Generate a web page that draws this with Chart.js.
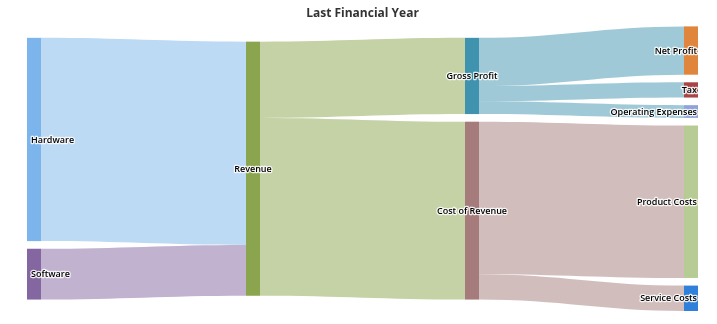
<!DOCTYPE html>
<html>
<head>
<meta charset="utf-8">
<title>Last Financial Year</title>
<script src="https://cdn.jsdelivr.net/npm/chart.js@4.4.1/dist/chart.umd.min.js"></script>
<style>
  html, body { margin: 0; padding: 0; background: #fff; }
</style>
</head>
<body>
<canvas id="sankeyChart" width="717" height="324"></canvas>
<script>
// Nodes and flows of the income breakdown
const nodeNames = ['Hardware', 'Software', 'Revenue', 'Gross Profit', 'Cost of Revenue',
  'Net Profit', 'Tax', 'Operating Expenses', 'Product Costs', 'Service Costs'];
const nodeColors = ['#7cb5ec', '#8466a0', '#8ba54e', '#4093ae', '#a57b7c',
  '#e0853c', '#a94446', '#8fa3da', '#b6cc94', '#2f80da'];

const linkFrom = ['Hardware', 'Software', 'Revenue', 'Revenue', 'Gross Profit',
  'Gross Profit', 'Gross Profit', 'Cost of Revenue', 'Cost of Revenue'];
const linkTo = ['Revenue', 'Revenue', 'Gross Profit', 'Cost of Revenue', 'Net Profit',
  'Tax', 'Operating Expenses', 'Product Costs', 'Service Costs'];
const linkValues = [80, 20, 30, 70, 19, 6, 5, 60, 10];

const nodePadding = 3;   // gap between nodes, in value units
const nodeWidth = 14;    // px

// work out columns and stacked positions (in value units)
function buildLayout() {
  const nodes = nodeNames.map((name, i) => ({ name, color: nodeColors[i], col: 0, inSum: 0, outSum: 0 }));
  const byName = {};
  nodes.forEach(n => byName[n.name] = n);
  linkFrom.forEach((f, i) => {
    byName[f].outSum += linkValues[i];
    byName[linkTo[i]].inSum += linkValues[i];
  });
  // push targets one column past their sources
  let changed = true;
  while (changed) {
    changed = false;
    linkFrom.forEach((f, i) => {
      const t = byName[linkTo[i]];
      if (t.col < byName[f].col + 1) { t.col = byName[f].col + 1; changed = true; }
    });
  }
  const cols = [];
  nodes.forEach(n => {
    n.value = Math.max(n.inSum, n.outSum);
    (cols[n.col] = cols[n.col] || []).push(n);
  });
  const colTotals = cols.map(c => c.reduce((s, n) => s + n.value, 0) + nodePadding * (c.length - 1));
  const yMax = Math.max(...colTotals);
  cols.forEach((c, ci) => {
    let top = yMax / 2 + colTotals[ci] / 2;
    c.forEach(n => {
      n.top = top;
      n.bottom = top - n.value;
      n.outOffset = top;
      n.inOffset = top;
      top = n.bottom - nodePadding;
    });
  });
  const links = linkFrom.map((f, i) => {
    const s = byName[f], t = byName[linkTo[i]], v = linkValues[i];
    const link = { source: s, target: t, value: v,
      sTop: s.outOffset, tTop: t.inOffset };
    s.outOffset -= v;
    t.inOffset -= v;
    return link;
  });
  return { nodes, links, yMax, lastCol: cols.length - 1 };
}

const layout = buildLayout();

function hexToRgba(hex, a) {
  const n = parseInt(hex.slice(1), 16);
  return 'rgba(' + (n >> 16) + ',' + ((n >> 8) & 255) + ',' + (n & 255) + ',' + a + ')';
}

const sankeyPlugin = {
  id: 'sankeyFlows',
  afterDatasetsDraw(chart) {
    const { ctx, scales: { x, y } } = chart;
    const half = nodeWidth / 2;
    ctx.save();

    // flows
    layout.links.forEach(l => {
      const sx = x.getPixelForValue(l.source.col) + half;
      const tx = x.getPixelForValue(l.target.col) - half;
      const curvy = (tx - sx) * 0.4;
      const y0 = y.getPixelForValue(l.sTop);
      const y1 = y.getPixelForValue(l.tTop);
      const y0b = y.getPixelForValue(l.sTop - l.value);
      const y1b = y.getPixelForValue(l.tTop - l.value);
      ctx.beginPath();
      ctx.moveTo(sx, y0);
      ctx.bezierCurveTo(sx + curvy, y0, tx - curvy, y1, tx, y1);
      ctx.lineTo(tx, y1b);
      ctx.bezierCurveTo(tx - curvy, y1b, sx + curvy, y0b, sx, y0b);
      ctx.closePath();
      ctx.fillStyle = hexToRgba(l.source.color, 0.5);
      ctx.fill();
    });

    // nodes
    layout.nodes.forEach(n => {
      const cx = x.getPixelForValue(n.col);
      const top = y.getPixelForValue(n.top);
      const bottom = y.getPixelForValue(n.bottom);
      ctx.fillStyle = n.color;
      ctx.fillRect(cx - half, top, nodeWidth, bottom - top);
    });

    // labels with a light halo
    ctx.font = '600 9px "Open Sans"';
    ctx.textBaseline = 'middle';
    ctx.lineJoin = 'round';
    layout.nodes.forEach(n => {
      const cx = x.getPixelForValue(n.col);
      const cy = (y.getPixelForValue(n.top) + y.getPixelForValue(n.bottom)) / 2 + 0.5;
      let lx = cx;
      if (n.col === 0) { ctx.textAlign = 'left'; lx = cx - 3; }
      else if (n.col === layout.lastCol) { ctx.textAlign = 'right'; lx = cx + half - 1; }
      else { ctx.textAlign = 'center'; }
      ctx.lineWidth = 2.5;
      ctx.strokeStyle = 'rgba(255,255,255,0.85)';
      ctx.strokeText(n.name, lx, cy);
      ctx.fillStyle = '#000';
      ctx.fillText(n.name, lx, cy);
    });
    ctx.restore();
  }
};

new Chart(document.getElementById('sankeyChart'), {
  type: 'scatter',
  data: { datasets: [{ data: [] }] },
  options: {
    responsive: false,
    animation: false,
    layout: { padding: { top: 3, bottom: 13, left: 34, right: 26 } },
    plugins: {
      legend: { display: false },
      tooltip: { enabled: false },
      title: {
        display: true,
        text: 'Last Financial Year',
        color: '#333',
        font: { family: 'Open Sans', size: 12, weight: 'bold' },
        padding: { top: 3, bottom: 6 }
      }
    },
    scales: {
      x: { type: 'linear', min: 0, max: layout.lastCol, display: false },
      y: { type: 'linear', min: 0, max: layout.yMax, display: false }
    }
  },
  plugins: [sankeyPlugin]
});
</script>
</body>
</html>
